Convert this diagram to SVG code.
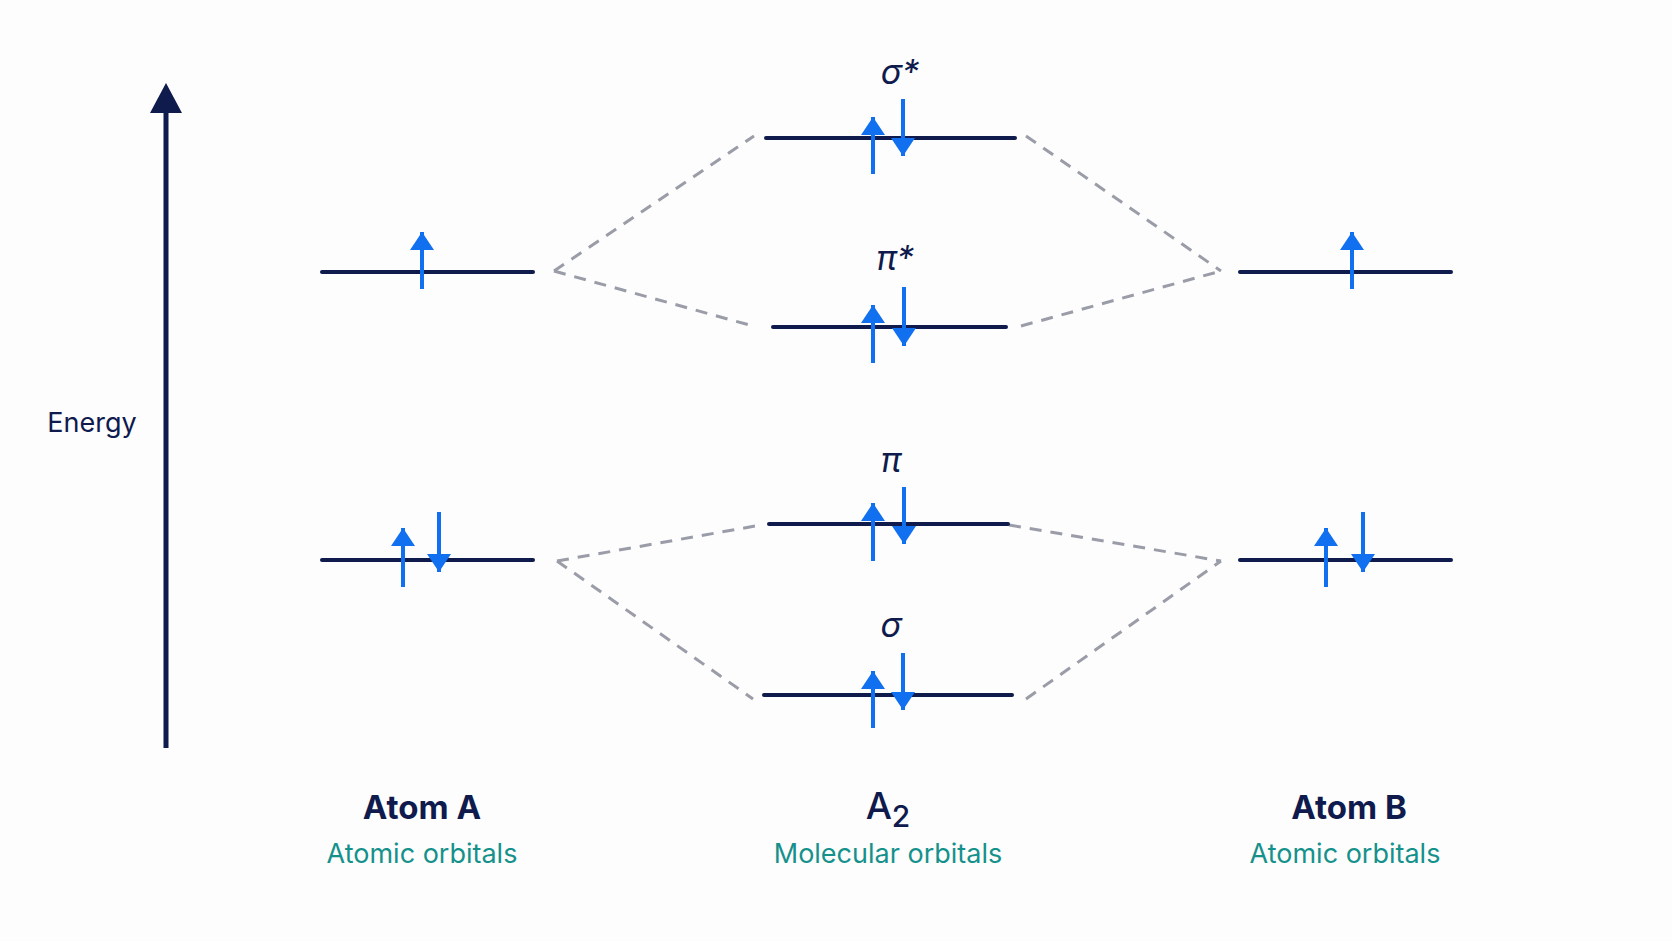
<svg xmlns="http://www.w3.org/2000/svg" width="1672" height="941" viewBox="0 0 1672 941">
<style>
.lvl{stroke:#0f1a4d;stroke-width:4;stroke-linecap:round}
.e{stroke:#1170f0;stroke-width:4}
.d{stroke:#9a9ca8;stroke-width:3;stroke-dasharray:12 9;fill:none}
.t{font-family:Inter,"Liberation Sans",sans-serif;fill:#0f1a4d;text-anchor:middle}
.s{font-family:Inter,"Liberation Sans",sans-serif;fill:#15918c;text-anchor:middle;font-size:27px}
</style>
<defs>
<marker id="up" markerWidth="24" markerHeight="18" refX="12" refY="0" orient="0" markerUnits="userSpaceOnUse"><path d="M0,18 L12,0 L24,18Z" fill="#1170f0"/></marker>
<marker id="dn" markerWidth="24" markerHeight="18" refX="12" refY="18" orient="0" markerUnits="userSpaceOnUse"><path d="M0,0 L24,0 L12,18Z" fill="#1170f0"/></marker>
</defs>
<rect width="1672" height="941" fill="#fdfdfd"/>
<g id="axis">
<line x1="166" y1="748" x2="166" y2="110" stroke="#0f1a4d" stroke-width="5"/>
<path d="M150,113 L166,83 L182,113Z" fill="#0f1a4d"/>
<text x="92" y="432" class="t" font-size="27">Energy</text>
</g>
<g id="connectors">
<line class="d" x1="554" y1="271" x2="754" y2="136"/>
<line class="d" x1="554" y1="271" x2="753" y2="326"/>
<line class="d" x1="1026" y1="136" x2="1221" y2="271"/>
<line class="d" x1="1021" y1="326" x2="1221" y2="271"/>
<line class="d" x1="557" y1="561" x2="761" y2="525"/>
<line class="d" x1="557" y1="561" x2="753" y2="699"/>
<line class="d" x1="1009" y1="525" x2="1221" y2="561"/>
<line class="d" x1="1026" y1="699" x2="1221" y2="561"/>
</g>
<g id="atomA-upper">
<line class="lvl" x1="322" y1="272" x2="533" y2="272"/>
<line class="e" x1="422" y1="289" x2="422" y2="232" marker-end="url(#up)"/>
</g>
<g id="atomA-lower">
<line class="lvl" x1="322" y1="560" x2="533" y2="560"/>
<line class="e" x1="403" y1="587" x2="403" y2="528" marker-end="url(#up)"/>
<line class="e" x1="439" y1="512" x2="439" y2="572" marker-end="url(#dn)"/>
</g>
<g id="atomB-upper">
<line class="lvl" x1="1240" y1="272" x2="1451" y2="272"/>
<line class="e" x1="1352" y1="289" x2="1352" y2="232" marker-end="url(#up)"/>
</g>
<g id="atomB-lower">
<line class="lvl" x1="1240" y1="560" x2="1451" y2="560"/>
<line class="e" x1="1326" y1="587" x2="1326" y2="528" marker-end="url(#up)"/>
<line class="e" x1="1363" y1="512" x2="1363" y2="572" marker-end="url(#dn)"/>
</g>
<g id="sigma-star">
<text x="900" y="84" class="t" font-size="34" font-style="italic">σ*</text>
<line class="lvl" x1="766" y1="138" x2="1015" y2="138"/>
<line class="e" x1="873" y1="174" x2="873" y2="117" marker-end="url(#up)"/>
<line class="e" x1="903" y1="99" x2="903" y2="156" marker-end="url(#dn)"/>
</g>
<g id="pi-star">
<text x="895" y="270" class="t" font-size="34" font-style="italic">π*</text>
<line class="lvl" x1="773" y1="327" x2="1006" y2="327"/>
<line class="e" x1="873" y1="363" x2="873" y2="305" marker-end="url(#up)"/>
<line class="e" x1="904" y1="287" x2="904" y2="346" marker-end="url(#dn)"/>
</g>
<g id="pi">
<text x="891" y="472" class="t" font-size="34" font-style="italic">π</text>
<line class="lvl" x1="769" y1="524" x2="1008" y2="524"/>
<line class="e" x1="873" y1="561" x2="873" y2="503" marker-end="url(#up)"/>
<line class="e" x1="904" y1="487" x2="904" y2="544" marker-end="url(#dn)"/>
</g>
<g id="sigma">
<text x="891" y="637" class="t" font-size="34" font-style="italic">σ</text>
<line class="lvl" x1="764" y1="695" x2="1012" y2="695"/>
<line class="e" x1="873" y1="728" x2="873" y2="671" marker-end="url(#up)"/>
<line class="e" x1="903" y1="653" x2="903" y2="710" marker-end="url(#dn)"/>
</g>
<g id="labelA">
<text x="422" y="819" class="t" font-size="33" font-weight="bold">Atom A</text>
<text x="422" y="863" class="s">Atomic orbitals</text>
</g>
<g id="labelA2">
<text x="888" y="819" class="t" font-size="37" font-weight="500">A<tspan font-size="30" dy="8">2</tspan></text>
<text x="888" y="863" class="s">Molecular orbitals</text>
</g>
<g id="labelB">
<text x="1349" y="819" class="t" font-size="33" font-weight="bold">Atom B</text>
<text x="1345" y="863" class="s">Atomic orbitals</text>
</g>
</svg>
